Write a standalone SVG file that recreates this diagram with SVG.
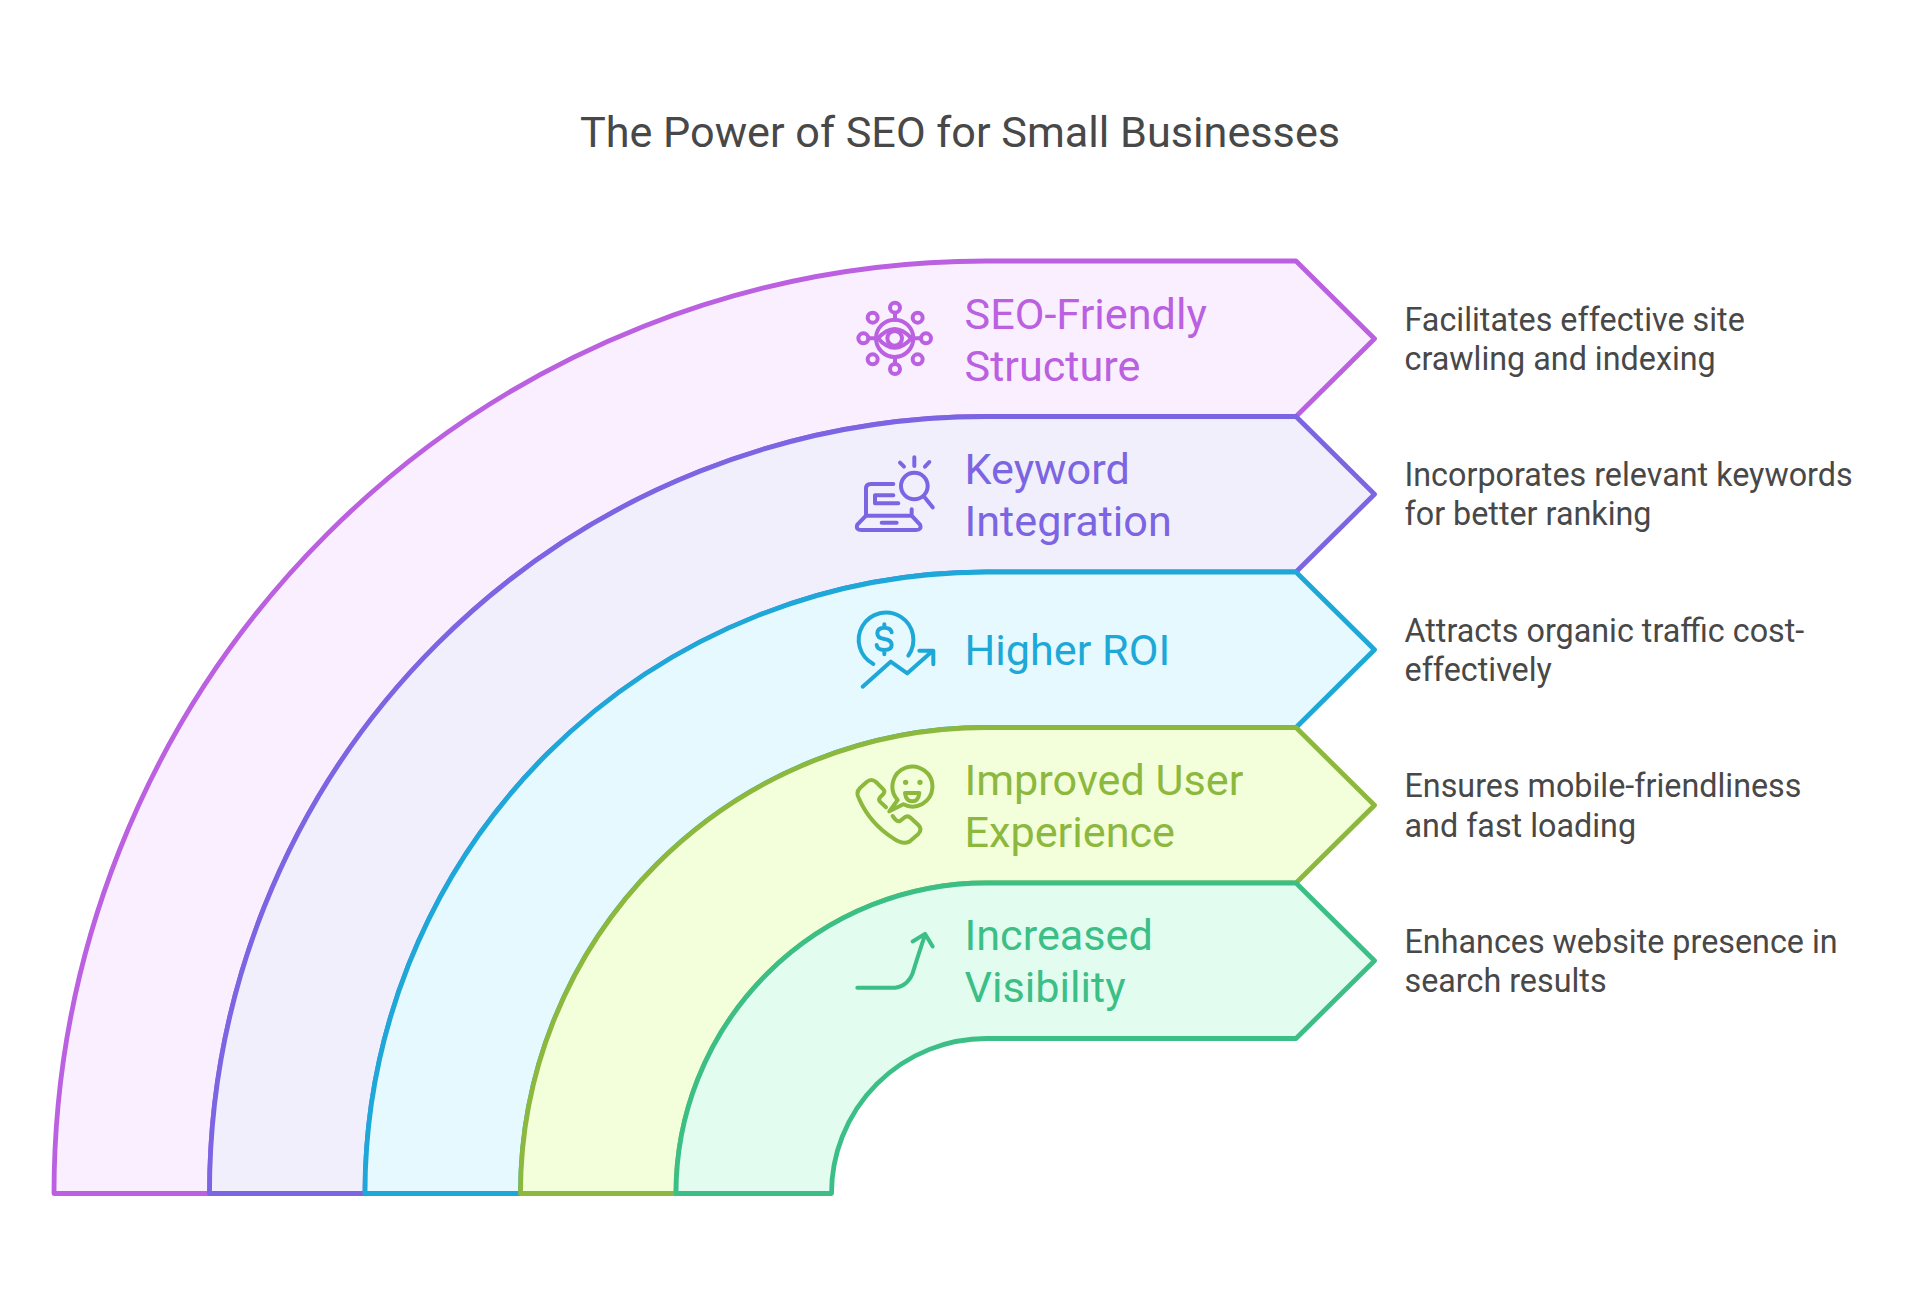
<svg xmlns="http://www.w3.org/2000/svg" width="1920" height="1299" viewBox="0 0 1920 1299">
<style>
text{font-family:Roboto,"Liberation Sans",sans-serif}
.title{font-size:43.2px;fill:#484848;text-anchor:middle}
.lab{font-size:43.2px}
.desc{font-size:32.3px;fill:#484848}
.band{stroke-width:4.8;stroke-linejoin:round}
.ico{fill:none;stroke-width:12;stroke-linecap:round;stroke-linejoin:round}
.c1{fill:#BA60E0}.c2{fill:#7C65E2}.c3{fill:#1EA8D8}.c4{fill:#8DB83E}.c5{fill:#3BBF87}
</style>
<rect width="1920" height="1299" fill="#fff"/>
<text class="title" x="960" y="146.5">The Power of SEO for Small Businesses</text>
<g id="connectors"/>
<g id="node-seo-friendly">
<path class="band" fill="#F9EFFE" stroke="#BA60E0" d="M54,1193.5A932.5,932.5 0 0 1 986.5,261H1296L1374.5,338.75L1296,416.5H986.5A777,777 0 0 0 209.5,1193.5Z"/>
<g class="ico" stroke="#BA60E0" transform="translate(850 295) scale(.3333)">
<circle cx="134" cy="130" r="56"/><path d="M84,130Q134,74 184,130Q134,186 84,130Z"/><circle cx="134" cy="130" r="22"/>
<circle cx="135" cy="38" r="15"/><circle cx="135" cy="222" r="15"/><circle cx="40" cy="130" r="15"/><circle cx="228" cy="130" r="15"/>
<circle cx="68" cy="68" r="15"/><circle cx="203" cy="68" r="15"/><circle cx="68" cy="193" r="15"/><circle cx="203" cy="193" r="15"/>
<path d="M135,53V74M135,186V207M55,130H78M190,130H213"/>
</g>
<text class="lab c1" x="964.5" y="328.5">SEO-Friendly</text><text class="lab c1" x="964.5" y="380.5">Structure</text>
<text class="desc" x="1404.5" y="330.5">Facilitates effective site</text><text class="desc" x="1404.5" y="369.7">crawling and indexing</text>
</g>
<g id="node-keyword">
<path class="band" fill="#F2EFFD" stroke="#7C65E2" d="M209.5,1193.5A777,777 0 0 1 986.5,416.5H1296L1374.5,494.25L1296,572H986.5A621.5,621.5 0 0 0 365,1193.5Z"/>
<g class="ico" stroke="#7C65E2" transform="translate(850 450) scale(.3333)">
<path d="M150,38L162,50M193,22V48M238,36L225,50"/><circle cx="193" cy="108" r="40"/><path d="M225,143L248,172"/>
<path d="M130,102H62Q48,102 48,116V197M130,136H75V160H145"/>
<path d="M48,197H185V178M48,197L22,224Q16,240 35,240H198Q216,240 210,224L185,197M95,218H140"/>
</g>
<text class="lab c2" x="964.5" y="484">Keyword</text><text class="lab c2" x="964.5" y="536">Integration</text>
<text class="desc" x="1404.5" y="486">Incorporates relevant keywords</text><text class="desc" x="1404.5" y="525.2">for better ranking</text>
</g>
<g id="node-roi">
<path class="band" fill="#E6F9FF" stroke="#1EA8D8" d="M365,1193.5A621.5,621.5 0 0 1 986.5,572H1296L1374.5,649.75L1296,727.5H986.5A466,466 0 0 0 520.5,1193.5Z"/>
<g class="ico" stroke="#1EA8D8" transform="translate(850 605) scale(.3333)">
<path d="M70,177A82,82 0 1 1 175,152"/><path d="M38,245L122,170L172,205L245,140M208,137H250V178"/>
<path d="M125,82Q122,68 103,68Q82,68 82,85Q82,100 103,102Q125,105 125,120Q125,135 103,135Q82,135 80,120M103,58V68M103,135V148"/>
</g>
<text class="lab c3" x="964.5" y="665">Higher ROI</text>
<text class="desc" x="1404.5" y="642">Attracts organic traffic cost-</text><text class="desc" x="1404.5" y="681.2">effectively</text>
</g>
<g id="node-ux">
<path class="band" fill="#F3FFDA" stroke="#8DB83E" d="M520.5,1193.5A466,466 0 0 1 986.5,727.5H1296L1374.5,805.25L1296,883H986.5A310.5,310.5 0 0 0 676,1193.5Z"/>
<g class="ico" stroke="#8DB83E" transform="translate(850 760) scale(.3333)">
<path d="M108,142L90,125Q84,118 92,110L100,102Q106,94 100,88L78,66Q64,54 50,66L30,84Q16,98 28,118Q60,190 130,235Q158,255 178,245L205,222Q218,208 205,195L180,172Q170,165 160,175L150,183Q142,188 128,168"/>
<path d="M143,120A60,60 0 1 1 160,133L118,154Z"/><path d="M165,99H208Q205,124 187,124Q168,124 165,99Z"/>
<path d="M167,67h.01M210,67h.01" stroke-width="16"/>
</g>
<text class="lab c4" x="964.5" y="795">Improved User</text><text class="lab c4" x="964.5" y="847">Experience</text>
<text class="desc" x="1404.5" y="797.3">Ensures mobile-friendliness</text><text class="desc" x="1404.5" y="836.5">and fast loading</text>
</g>
<g id="node-visibility">
<path class="band" fill="#E2FDEF" stroke="#3BBF87" d="M676,1193.5A310.5,310.5 0 0 1 986.5,883H1296L1374.5,960.75L1296,1038.5H986.5A155,155 0 0 0 831.5,1193.5Z"/>
<g class="ico" stroke="#3BBF87" transform="translate(850 926.5) scale(.3333)">
<path d="M22,184H125Q170,184 188,140Q200,100 225,25M188,45L225,22L248,60"/>
</g>
<text class="lab c5" x="964.5" y="950">Increased</text><text class="lab c5" x="964.5" y="1002">Visibility</text>
<text class="desc" x="1404.5" y="953">Enhances website presence in</text><text class="desc" x="1404.5" y="992.2">search results</text>
</g>
</svg>
